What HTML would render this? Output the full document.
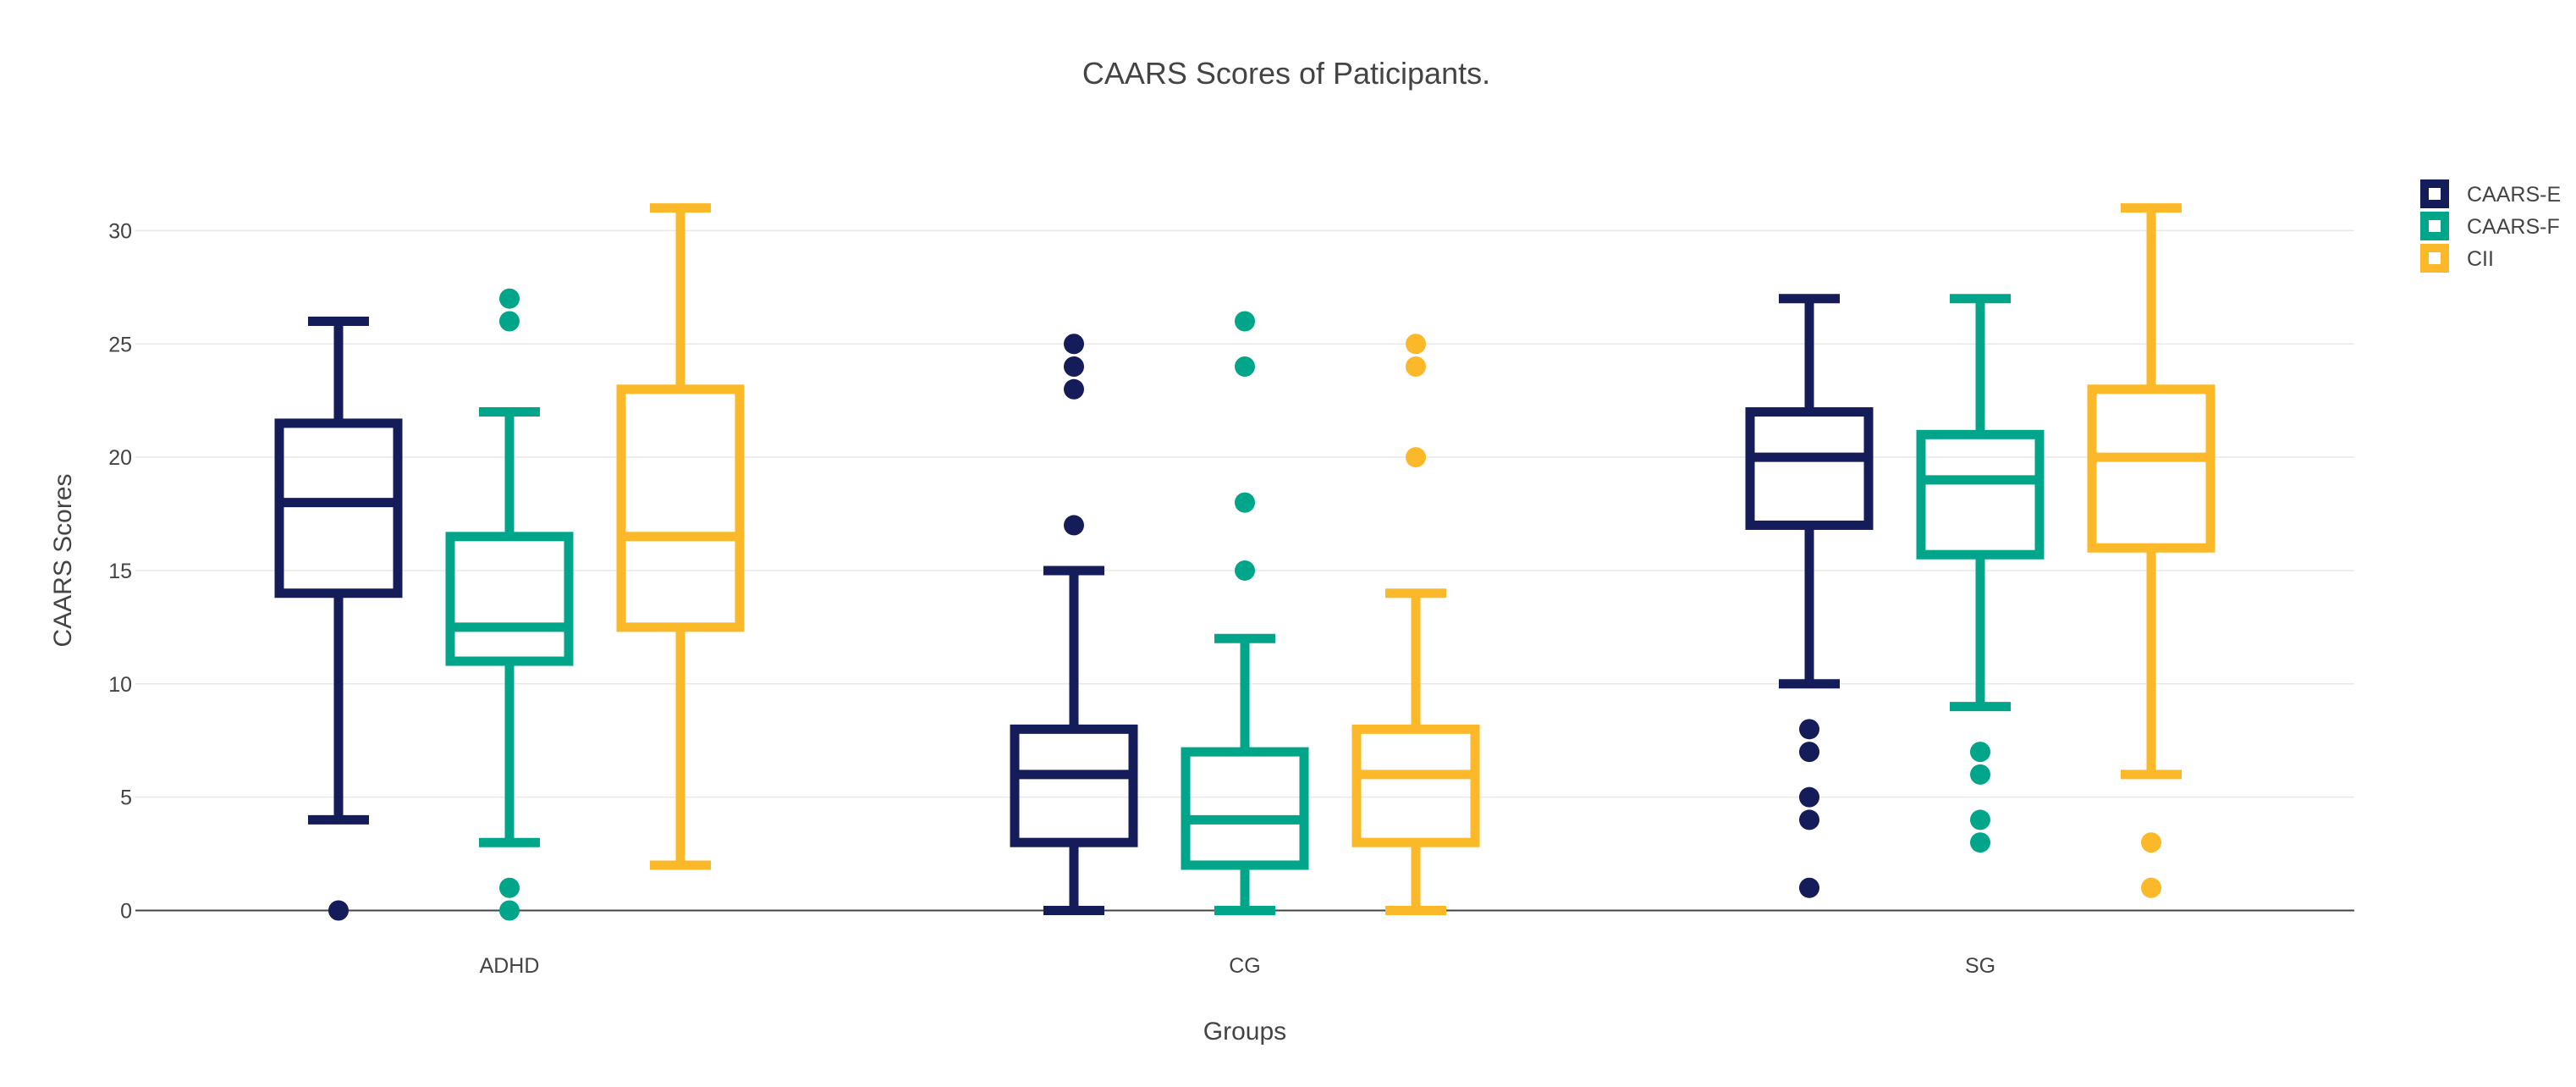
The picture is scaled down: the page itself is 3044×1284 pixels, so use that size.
<!DOCTYPE html>
<html><head><meta charset="utf-8"><style>
html,body{margin:0;padding:0;background:#fff;}
svg{display:block;font-family:"Liberation Sans","DejaVu Sans",sans-serif;}
</style></head><body>
<svg id="chart" width="3044" height="1284" viewBox="0 0 3044 1284">
<text x="1520" y="99" text-anchor="middle" font-size="36" fill="#444">CAARS Scores of Paticipants.</text>
<text transform="translate(84,662) rotate(-90)" text-anchor="middle" font-size="30" fill="#444">CAARS Scores</text>
<text x="1471" y="1228" text-anchor="middle" font-size="30" fill="#444">Groups</text>
<g id="grid"></g><g id="marks"></g><g id="legend"></g>
</svg>
<script>
const categories = ["ADHD","CG","SG"];
const seriesNames = ["CAARS-E","CAARS-F","CII"];
const colors = ["#141c59","#00a58a","#fbb829"];
const yTicks = [0,5,10,15,20,25,30];
// [lowerWhisker, q1, median, q3, upperWhisker] per category
const caarsE = [[4,14,18,21.5,26],[0,3,6,8,15],[10,17,20,22,27]];
const caarsF = [[3,11,12.5,16.5,22],[0,2,4,7,12],[9,15.7,19,21,27]];
const cii = [[2,12.5,16.5,23,31],[0,3,6,8,14],[6,16,20,23,31]];
const outE = [[0],[25,24,23,17],[8,7,5,4,1]];
const outF = [[27,26,1,0],[26,24,18,15],[7,6,4,3]];
const outC = [[],[25,24,20],[3,1]];
const stats = [caarsE, caarsF, cii];
const outs = [outE, outF, outC];

const NS = "http://www.w3.org/2000/svg";
const X0 = 160, X1 = 2782, Y0 = 1075.5, PPU = 26.77;
const y = v => Y0 - v * PPU;
const xCat = i => 602 + i * 869;
const xSer = (i, s) => xCat(i) + (s - 1) * 202;
function mk(tag, attrs, parent) {
  const e = document.createElementNS(NS, tag);
  for (const k in attrs) e.setAttribute(k, attrs[k]);
  parent.appendChild(e);
  return e;
}
const grid = document.getElementById("grid");
yTicks.forEach(t => {
  const l = mk("line", {x1: X0, x2: X1, y1: y(t), y2: y(t), stroke: t === 0 ? "#444" : "#e8e8e8", "stroke-width": t === 0 ? 2 : 1.5}, grid);
  
  
  const tx = mk("text", {x: 156, y: y(t) + 9, "text-anchor": "end", "font-size": 25, fill: "#444"}, grid);
  tx.textContent = t;
  
  
});
categories.forEach((c, i) => {
  const tx = mk("text", {x: xCat(i), y: 1149, "text-anchor": "middle", "font-size": 25, fill: "#444"}, grid);
  tx.textContent = c;
  
  
});
const marks = document.getElementById("marks");
const BW = 140, CW = 72, LW = 11;
stats.forEach((ser, s) => {
  ser.forEach((st, i) => {
    const cx = xSer(i, s), col = colors[s];
    const g = mk("g", {stroke: col, "stroke-width": LW, fill: "none"}, marks);
    
    
    mk("line", {x1: cx, x2: cx, y1: y(st[0]), y2: y(st[1])}, g);
    mk("line", {x1: cx, x2: cx, y1: y(st[3]), y2: y(st[4])}, g);
    mk("line", {x1: cx - CW/2, x2: cx + CW/2, y1: y(st[0]), y2: y(st[0])}, g);
    mk("line", {x1: cx - CW/2, x2: cx + CW/2, y1: y(st[4]), y2: y(st[4])}, g);
    mk("rect", {x: cx - BW/2, y: y(st[3]), width: BW, height: y(st[1]) - y(st[3])}, g);
    mk("line", {x1: cx - BW/2, x2: cx + BW/2, y1: y(st[2]), y2: y(st[2])}, g);
    outs[s][i].forEach(v => {
      const d = mk("circle", {cx: cx, cy: y(v), r: 12, fill: col, stroke: "none"}, marks);
      
      
    });
  });
});
const lg = document.getElementById("legend");
seriesNames.forEach((n, s) => {
  const cy = 229 + s * 38;
  const g = mk("g", {}, lg);
  
  
  mk("rect", {x: 2865, y: cy - 12, width: 24, height: 24, fill: "#fff", stroke: colors[s], "stroke-width": 10}, g);
  const t = mk("text", {x: 2915, y: cy + 9, "font-size": 25, fill: "#444"}, g);
  t.textContent = n;
});
</script>
</body></html>
